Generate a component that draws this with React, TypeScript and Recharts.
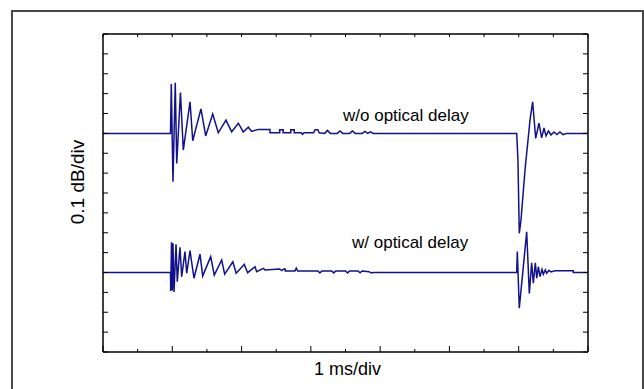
import { LineChart, Line, XAxis, YAxis } from "recharts";

// x in time divisions (1 ms/div), y in vertical divisions (0.1 dB/div)
const upperX = [
  0, 0.974, 0.986, 1.01, 1.043, 1.064, 1.118, 1.159, 1.256, 1.295, 1.414, 1.482, 1.583, 1.664,
  1.775, 1.857, 1.953, 2.025, 2.097, 2.146, 2.241, 2.41, 2.41, 2.55, 2.55, 2.6, 2.6, 2.71, 2.71,
  2.76, 2.76, 2.86, 2.88, 2.9, 3.04, 3.06, 3.1, 3.12, 3.2, 3.24, 3.28, 3.38, 3.42, 3.46, 3.56,
  3.6, 3.64, 3.74, 3.78, 3.82, 3.86, 3.9, 5.971, 5.989, 6.008, 6.033, 6.091, 6.163, 6.201,
  6.245, 6.292, 6.331, 6.365, 6.394, 6.43, 6.466, 6.509, 6.552, 6.595, 6.638, 6.692, 7,
];
const upperY = [
  11, 11, 13.48, 8.57, 13.55, 9.49, 13.06, 10.16, 12.59, 10.63, 12.23, 10.87, 11.97, 11.03,
  11.67, 11.08, 11.51, 11.07, 11.31, 11.1, 11.2, 11.2, 11.03, 11.03, 11.18, 11.18, 11.03, 11.03,
  11.18, 11.18, 11.03, 11.03, 10.95, 11.03, 11.03, 11.18, 11.18, 11.03, 11.0, 11.15, 11.0, 11.0,
  11.12, 11.0, 11.0, 11.12, 11.0, 11.0, 11.1, 11.0, 11.08, 11.0, 11, 9.66, 5.97, 6.64, 9.16,
  11.67, 12.59, 10.75, 11.51, 10.77, 11.27, 10.87, 11.12, 10.92, 11.07, 10.94, 11.07, 10.94,
  11, 11,
];

const lowerX = [
  0, 0.974, 0.977, 0.989, 1.0, 1.01, 1.025, 1.054, 1.072, 1.111, 1.136, 1.183, 1.208, 1.256,
  1.313, 1.4, 1.439, 1.554, 1.606, 1.713, 1.756, 1.874, 1.922, 2.039, 2.088, 2.194, 2.218,
  2.314, 2.338, 2.55, 2.58, 2.61, 2.63, 2.63, 2.77, 2.79, 2.81, 3.1, 3.13, 3.16, 3.3, 3.33,
  3.36, 3.5, 3.53, 3.56, 3.68, 3.71, 3.74, 3.84, 3.87, 3.9, 5.971, 5.98, 6.008, 6.062, 6.115,
  6.153, 6.187, 6.211, 6.24, 6.26, 6.283, 6.307, 6.336, 6.355, 6.384, 6.404, 6.437, 6.466,
  6.523, 6.788, 6.788, 7,
];
const lowerY = [
  4, 4, 3.07, 5.52, 3.09, 5.47, 3.02, 5.42, 3.54, 5.27, 3.79, 5.05, 3.96, 5.1, 3.71, 4.92,
  3.82, 4.8, 3.87, 4.63, 3.92, 4.54, 3.96, 4.41, 3.99, 4.29, 4.04, 4.21, 4.13, 4.18, 4.1, 4.18,
  4.18, 4.08, 4.08, 4.22, 4.08, 4.08, 3.98, 4.08, 4.08, 3.98, 4.08, 4.08, 3.98, 4.08, 4.08,
  3.99, 4.08, 4.04, 3.98, 4.0, 4, 5.05, 2.2, 4.13, 6.05, 2.95, 4.49, 3.46, 4.49, 3.71, 4.29,
  3.79, 4.16, 3.91, 4.13, 3.96, 4.11, 4.03, 4.09, 4.09, 4, 4,
];

// half-division ticks on the time axes, whole divisions are the long ones
const xTicks = [0, 0.5, 1, 1.5, 2, 2.5, 3, 3.5, 4, 4.5, 5, 5.5, 6, 6.5, 7];
const yTicks = [0, 1, 2, 3, 4, 5, 6, 7, 8, 9, 10, 11, 12, 13, 14, 15, 16];

const upperData = upperX.map((x, i) => ({ x, y: upperY[i] }));
const lowerData = lowerX.map((x, i) => ({ x, y: lowerY[i] }));

const FONT = "'Liberation Sans', Arial, sans-serif";
const TRACE = "#11118c";
const axisLine = { stroke: "#000", strokeWidth: 1.5 };
const tickLine = { stroke: "#000", strokeWidth: 1 };
const noLabel = () => <g />;

const bottomTick = (p: any) => {
  const len = Number.isInteger(p.payload.value) ? 6 : 3;
  return <line x1={p.x} x2={p.x} y1={p.y} y2={p.y - len} stroke="#000" strokeWidth={1} />;
};
const topTick = (p: any) => (
  <line x1={p.x} x2={p.x} y1={p.y} y2={p.y + 3} stroke="#000" strokeWidth={1} />
);

const label = (text: string, left: number, top: number, size: number) => (
  <div
    style={{
      position: "absolute", left, top, fontFamily: FONT, fontSize: size,
      lineHeight: `${size}px`, color: "#000", whiteSpace: "nowrap",
    }}
  >
    {text}
  </div>
);

export default function App() {
  return (
    <div style={{ position: "absolute", left: 0, top: 0, width: 644, height: 389, background: "#fff" }}>
      <div
        style={{
          position: "absolute", left: 11, top: 10, width: 633, height: 379, boxSizing: "border-box",
          borderTop: "2px solid #484848", borderLeft: "2px solid #484848", borderRight: "2px solid #484848",
        }}
      />
      <div style={{ position: "absolute", left: 0, top: 0 }}>
        <LineChart width={644} height={389} margin={{ top: 34, left: 103, right: 56, bottom: 37 }}>
          <XAxis xAxisId="b" type="number" dataKey="x" domain={[0, 7]} ticks={xTicks} interval={0}
            orientation="bottom" mirror height={1} tick={bottomTick} tickSize={0} tickMargin={0}
            tickLine={false} axisLine={axisLine} />
          <XAxis xAxisId="t" type="number" dataKey="x" domain={[0, 7]} ticks={xTicks} interval={0}
            orientation="top" mirror height={1} tick={topTick} tickSize={0} tickMargin={0}
            tickLine={false} axisLine={axisLine} />
          <YAxis yAxisId="l" type="number" domain={[0, 16]} ticks={yTicks} interval={0}
            orientation="left" mirror width={1} tick={noLabel} tickSize={5}
            tickLine={tickLine} axisLine={axisLine} />
          <YAxis yAxisId="r" type="number" domain={[0, 16]} ticks={yTicks} interval={0}
            orientation="right" mirror width={1} tick={noLabel} tickSize={5}
            tickLine={tickLine} axisLine={axisLine} />
          <Line data={upperData} xAxisId="b" yAxisId="l" dataKey="y" type="linear"
            stroke={TRACE} strokeWidth={1.5} dot={false} isAnimationActive={false} />
          <Line data={lowerData} xAxisId="t" yAxisId="r" dataKey="y" type="linear"
            stroke={TRACE} strokeWidth={1.5} dot={false} isAnimationActive={false} />
        </LineChart>
      </div>
      {label("w/o optical delay", 343, 107, 17)}
      {label("w/ optical delay", 352, 234, 17)}
      {label("1 ms/div", 314, 360, 18)}
      <div
        style={{
          position: "absolute", left: 77, top: 182, fontFamily: FONT, fontSize: 19,
          lineHeight: "19px", whiteSpace: "nowrap",
          transform: "translate(-50%, -50%) rotate(-90deg)",
        }}
      >
        0.1 dB/div
      </div>
    </div>
  );
}
